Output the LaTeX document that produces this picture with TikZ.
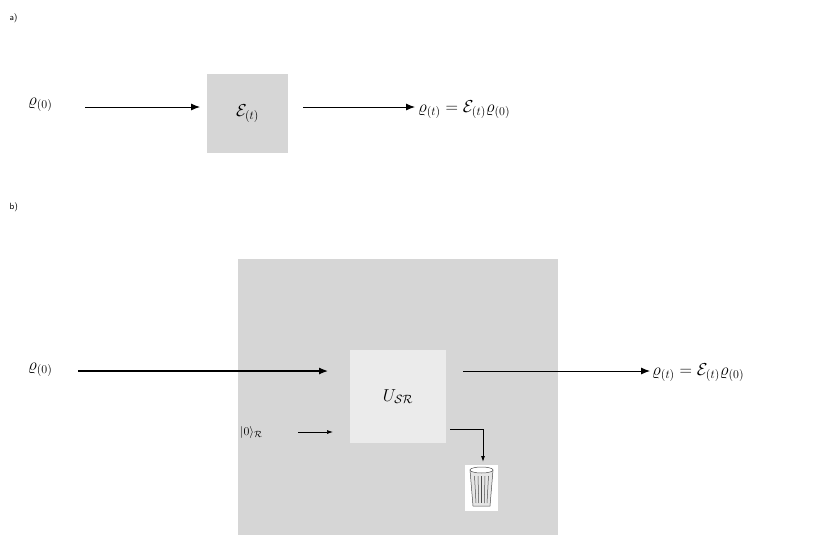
\documentclass[tikz,border=0pt]{standalone}
\usepackage{amsmath}
\usetikzlibrary{arrows.meta}
\definecolor{boxg}{HTML}{D6D6D6}
\definecolor{boxl}{HTML}{EBEBEB}
\tikzset{
  lbl/.style={inner sep=0pt,font=\fontsize{17}{20}\selectfont},
  arr/.style={-{Latex[length=9pt,width=7pt]},line width=0.9pt},
  sarr/.style={-{Latex[length=6pt,width=4pt]},line width=0.7pt},
}
\begin{document}
\begin{tikzpicture}[x=1pt,y=-1pt]
\useasboundingbox (0,0) rectangle (831,542);
\node[anchor=west,font=\sffamily\small] (la) at (6,18) {a)};
\node[anchor=west,font=\sffamily\small] (lb) at (6,207) {b)};
% a
\node[lbl,anchor=west] (a0) at (28,105) {$\varrho_{(0)}$};
\node[fill=boxg,minimum width=81pt,minimum height=79pt,inner sep=0pt] (E) at (247.5,113.5) {};
\node[lbl] (Et) at (E) {$\mathcal{E}_{(t)}$};
\node[lbl,anchor=west] (a1) at (418,110) {$\varrho_{(t)}=\mathcal{E}_{(t)}\varrho_{(0)}$};
\coordinate (a0e) at (85,107);
\coordinate (Ein) at (200,107);
\coordinate (Eout) at (303,107);
\coordinate (a1s) at (415,107);
\draw[arr] (a0e) -- (Ein);
\draw[arr] (Eout) -- (a1s);
% b
\node[fill=boxg,minimum width=320pt,minimum height=276pt,inner sep=0pt] (big) at (398,397) {};
\node[fill=boxl,minimum width=96pt,minimum height=93pt,inner sep=0pt] (U) at (398,396.5) {};
\node[lbl] (Ut) at (U) {$U_{\mathcal{S}\mathcal{R}}$};
\node[lbl,anchor=west] (b0) at (28,370) {$\varrho_{(0)}$};
\node[lbl,anchor=west] (b1) at (652,373) {$\varrho_{(t)}=\mathcal{E}_{(t)}\varrho_{(0)}$};
\node[inner sep=0pt,anchor=west,font=\fontsize{13}{15}\selectfont] (r0) at (240,432) {$|0\rangle_{\mathcal{R}}$};
\coordinate (b0e) at (78,371);
\coordinate (Uin) at (328,371);
\coordinate (Uout) at (463,371);
\coordinate (b1s) at (650,371);
\coordinate (r0e) at (298,432);
\coordinate (Urin) at (333,432);
\coordinate (Ud) at (450,429);
\coordinate (Udc) at (483,429);
\coordinate (tr) at (483,462);
\draw[arr,line width=1.2pt] (b0e) -- (Uin);
\draw[arr] (Uout) -- (b1s);
\draw[sarr] (r0e) -- (Urin);
\draw[sarr,line width=0.9pt] (Ud) -- (Udc) -- (tr);
% trash can
\node[fill=white,minimum width=33pt,minimum height=46pt,inner sep=0pt] (can) at (481.5,488) {};
\begin{scope}[line width=0.5pt,draw=black!70]
\draw[fill=black!10] (470,470) -- (493,470) -- (490,506) -- (473,506) -- cycle;
\draw[fill=white] (481.5,470) ellipse (11.5pt and 3pt);
\foreach \i in {0,1,2,3,4}{ \draw (474.5+3.5*\i,476) -- (476+2.75*\i,503); }
\end{scope}
\end{tikzpicture}
\end{document}
